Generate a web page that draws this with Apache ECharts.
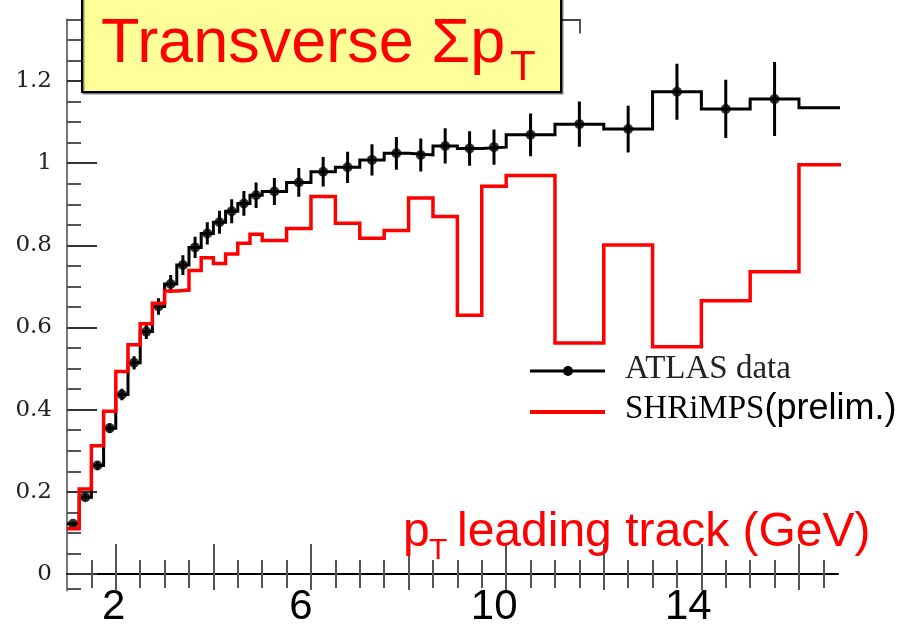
<!DOCTYPE html>
<html>
<head>
<meta charset="utf-8">
<script src="https://cdn.jsdelivr.net/npm/echarts@6/dist/echarts.min.js"></script>
<style>
  html, body { margin: 0; padding: 0; background: #ffffff; }
  #chart { width: 905px; height: 628px; }
</style>
</head>
<body>
<div id="chart"></div>
<script>
// Bin edges in pT of the leading track (GeV)
const binEdges = [1, 1.25, 1.5, 1.75, 2, 2.25, 2.5, 2.75, 3, 3.25, 3.5, 3.75, 4, 4.25, 4.5, 4.75, 5,
  5.5, 6, 6.5, 7, 7.5, 8, 8.5, 9, 9.5, 10, 11, 12, 13, 14, 15, 16, 18];

// Transverse-region sum pT, ATLAS data (value and uncertainty per bin)
const atlasValues = [0.122, 0.187, 0.264, 0.355, 0.437, 0.514, 0.590, 0.651, 0.706, 0.752, 0.795, 0.829,
  0.856, 0.883, 0.902, 0.922, 0.931, 0.953, 0.979, 0.990, 1.008, 1.024, 1.020, 1.042, 1.036, 1.039,
  1.069, 1.095, 1.083, 1.174, 1.132, 1.156, 1.135];
const atlasErrors = [0.006, 0.008, 0.010, 0.012, 0.014, 0.016, 0.018, 0.020, 0.022, 0.024, 0.026, 0.027,
  0.028, 0.029, 0.030, 0.031, 0.033, 0.035, 0.036, 0.038, 0.038, 0.040, 0.040, 0.043, 0.042, 0.043,
  0.052, 0.055, 0.057, 0.068, 0.071, 0.090, 0.090];

// SHRiMPS (preliminary) prediction per bin
const shrimpsValues = [0.110, 0.207, 0.312, 0.396, 0.493, 0.558, 0.609, 0.659, 0.689, 0.691, 0.739, 0.770,
  0.756, 0.779, 0.805, 0.827, 0.812, 0.841, 0.919, 0.854, 0.817, 0.836, 0.915, 0.870, 0.630, 0.944,
  0.970, 0.562, 0.801, 0.553, 0.665, 0.736, 0.996];

// Axis ticks and labels
const xTickLabels = [2, 6, 10, 14];
const xMajorTicks = [2, 4, 6, 8, 10, 12, 14, 16];
const xMinorTicks = [1.5, 2.5, 3, 3.5, 4.5, 5, 5.5, 6.5, 7, 7.5, 8.5, 9, 9.5, 10.5, 11, 11.5,
  12.5, 13, 13.5, 14.5, 15, 15.5, 16.5];
const yMajorTicks = [0, 0.2, 0.4, 0.6, 0.8, 1, 1.2];
const yMinorTicks = [-0.035, 0.05, 0.1, 0.15, 0.25, 0.3, 0.35, 0.45, 0.5, 0.55, 0.65, 0.7, 0.75,
  0.85, 0.9, 0.95, 1.05, 1.1, 1.15, 1.25, 1.3, 1.35];

const X_MIN = 1, X_MAX = 16.8, Y_MIN = -0.04, Y_MAX = 1.35;

// Histogram outline: horizontal segment across each bin, vertical joins at the edges
function stepOutline(values) {
  const pts = [];
  values.forEach((v, i) => {
    pts.push([binEdges[i], v], [binEdges[i + 1], v]);
  });
  return pts;
}
const binCentre = i => (binEdges[i] + binEdges[i + 1]) / 2;

// Small horizontal nudges for the large x tick labels (right padding in px)
const labelNudge = { 2: 4, 6: 20, 10: 24, 14: 26 };
const xLabelRich = {};
xTickLabels.forEach(v => {
  xLabelRich['n' + v] = {
    fontFamily: '"Liberation Sans", Arial, sans-serif',
    fontSize: 42, color: '#000', padding: [0, labelNudge[v], 0, 0]
  };
});

const tickGray = '#555';

function hiddenX(extra) {
  return Object.assign({
    type: 'value', min: X_MIN, max: X_MAX, position: 'bottom',
    axisLine: { show: false, onZero: true, onZeroAxisIndex: 0 },
    axisLabel: { show: false }, splitLine: { show: false }
  }, extra);
}
function hiddenY(extra) {
  return Object.assign({
    type: 'value', min: Y_MIN, max: Y_MAX, position: 'left',
    axisLine: { show: false, onZero: false },
    axisLabel: { show: false }, splitLine: { show: false }
  }, extra);
}

const chart = echarts.init(document.getElementById('chart'), null, { renderer: 'canvas' });

const option = {
  backgroundColor: '#ffffff',
  animation: false,
  grid: { left: 67, right: 67, top: 19.4, bottom: 37.6, containLabel: false, outerBoundsMode: 'none' },
  xAxis: [
    // main axis at y = 0: line, labels, long major ticks above the line
    {
      type: 'value', min: X_MIN, max: X_MAX, position: 'bottom',
      axisLine: { show: true, onZero: true, onZeroAxisIndex: 0, lineStyle: { color: '#000', width: 2 } },
      axisTick: { show: true, inside: true, length: 30, customValues: xMajorTicks,
        lineStyle: { color: tickGray, width: 2 } },
      axisLabel: {
        show: true, customValues: xTickLabels, margin: -4,
        formatter: v => '{n' + v + '|' + v + '}', rich: xLabelRich
      },
      splitLine: { show: false }
    },
    // major ticks below the line
    hiddenX({ axisTick: { show: true, inside: false, length: 16, customValues: xMajorTicks,
      lineStyle: { color: tickGray, width: 2 } } }),
    // minor ticks above the line
    hiddenX({ axisTick: { show: true, inside: true, length: 14, customValues: xMinorTicks,
      lineStyle: { color: tickGray, width: 2 } } }),
    // minor ticks below the line
    hiddenX({ axisTick: { show: true, inside: false, length: 14, customValues: xMinorTicks,
      lineStyle: { color: tickGray, width: 2 } } }),
    // upper frame with inward ticks
    {
      type: 'value', min: X_MIN, max: X_MAX, position: 'top',
      axisLine: { show: true, onZero: false, lineStyle: { color: '#444', width: 2 } },
      axisTick: { show: true, inside: true, length: 30, customValues: xMajorTicks,
        lineStyle: { color: tickGray, width: 2 } },
      axisLabel: { show: false }, splitLine: { show: false }
    },
    {
      type: 'value', min: X_MIN, max: X_MAX, position: 'top',
      axisLine: { show: false, onZero: false },
      axisTick: { show: true, inside: true, length: 14, customValues: xMinorTicks,
        lineStyle: { color: tickGray, width: 2 } },
      axisLabel: { show: false }, splitLine: { show: false }
    }
  ],
  yAxis: [
    {
      type: 'value', min: Y_MIN, max: Y_MAX, position: 'left',
      axisLine: { show: true, onZero: false, lineStyle: { color: '#777', width: 2 } },
      axisTick: { show: true, inside: true, length: 30, customValues: yMajorTicks,
        lineStyle: { color: '#333', width: 2 } },
      axisLabel: {
        show: true, customValues: yMajorTicks, margin: 15,
        fontFamily: '"DejaVu Serif", "Liberation Serif", serif', fontSize: 23, color: '#222'
      },
      splitLine: { show: false }
    },
    hiddenY({ axisTick: { show: true, inside: true, length: 14, customValues: yMinorTicks,
      lineStyle: { color: tickGray, width: 2 } } })
  ],
  series: [
    {
      name: 'ATLAS data', type: 'line', xAxisIndex: 0, yAxisIndex: 0,
      data: stepOutline(atlasValues), showSymbol: false, symbol: 'none', clip: true,
      lineStyle: { color: '#000', width: 3, join: 'miter' }, z: 3
    },
    {
      name: 'ATLAS data errors', type: 'custom', xAxisIndex: 0, yAxisIndex: 0, clip: true,
      data: atlasValues.map((v, i) => [binCentre(i), v - atlasErrors[i], v + atlasErrors[i]]),
      encode: { x: 0, y: [1, 2] },
      renderItem: (params, api) => {
        const lo = api.coord([api.value(0), api.value(1)]);
        const hi = api.coord([api.value(0), api.value(2)]);
        return {
          type: 'line',
          shape: { x1: lo[0], y1: lo[1], x2: hi[0], y2: hi[1] },
          style: { stroke: '#000', lineWidth: 3 }
        };
      },
      z: 4
    },
    {
      name: 'ATLAS data points', type: 'scatter', xAxisIndex: 0, yAxisIndex: 0, clip: true,
      data: atlasValues.map((v, i) => [binCentre(i), v]),
      symbol: 'circle', symbolSize: 10, itemStyle: { color: '#000' }, z: 5
    },
    {
      name: 'SHRiMPS', type: 'line', xAxisIndex: 0, yAxisIndex: 0,
      data: stepOutline(shrimpsValues), showSymbol: false, symbol: 'none', clip: true,
      lineStyle: { color: '#ff0000', width: 3.5, join: 'miter' }, z: 6
    }
  ],
  graphic: [
    // blank panel over the upper-right part of the frame
    {
      type: 'rect', z: 90,
      shape: { x: 581, y: 0, width: 324, height: 50 },
      style: { fill: '#ffffff' }
    },
    // title box
    {
      type: 'rect', z: 100,
      shape: { x: 82, y: -6, width: 479, height: 98 },
      style: { fill: '#ffff99', stroke: '#000', lineWidth: 2,
        shadowColor: 'rgba(0,0,0,0.45)', shadowOffsetX: 1.5, shadowOffsetY: 1.5, shadowBlur: 0 }
    },
    {
      type: 'text', z: 101, x: 101, y: 45,
      style: { text: 'Transverse \u03A3p', fill: '#ff0000', verticalAlign: 'middle', align: 'left',
        font: '63px "Liberation Sans", Arial, sans-serif' }
    },
    {
      type: 'text', z: 101, x: 510, y: 68,
      style: { text: 'T', fill: '#ff0000', verticalAlign: 'middle', align: 'left',
        font: '42px "Liberation Sans", Arial, sans-serif' }
    },
    // x axis title
    {
      type: 'text', z: 101, x: 403, y: 533,
      style: { text: 'p', fill: '#ff0000', verticalAlign: 'middle', align: 'left',
        font: '48px "Liberation Sans", Arial, sans-serif' }
    },
    {
      type: 'text', z: 101, x: 429, y: 551,
      style: { text: 'T', fill: '#ff0000', verticalAlign: 'middle', align: 'left',
        font: '30px "Liberation Sans", Arial, sans-serif' }
    },
    {
      type: 'text', z: 101, x: 457, y: 533,
      style: { text: 'leading track (GeV)', fill: '#ff0000', verticalAlign: 'middle', align: 'left',
        font: '48px "Liberation Sans", Arial, sans-serif' }
    },
    // legend
    {
      type: 'line', z: 101, shape: { x1: 530, y1: 371, x2: 605, y2: 371 },
      style: { stroke: '#000', lineWidth: 3 }
    },
    {
      type: 'circle', z: 102, shape: { cx: 568, cy: 371, r: 5 },
      style: { fill: '#000' }
    },
    {
      type: 'text', z: 101, x: 625, y: 369,
      style: { text: 'ATLAS data', fill: '#222', verticalAlign: 'middle', align: 'left',
        font: '33px "Liberation Serif", "Times New Roman", serif' }
    },
    {
      type: 'line', z: 101, shape: { x1: 530, y1: 412, x2: 605, y2: 412 },
      style: { stroke: '#ff0000', lineWidth: 4 }
    },
    {
      type: 'text', z: 101, x: 625, y: 409,
      style: {
        text: '{s|SHRiMPS}{p|(prelim.)}', verticalAlign: 'middle', align: 'left',
        rich: {
          s: { fontFamily: '"Liberation Serif", "Times New Roman", serif', fontSize: 33, color: '#222' },
          p: { fontFamily: '"Liberation Sans", Arial, sans-serif', fontSize: 36, color: '#000' }
        }
      }
    }
  ]
};

chart.setOption(option);
</script>
</body>
</html>
